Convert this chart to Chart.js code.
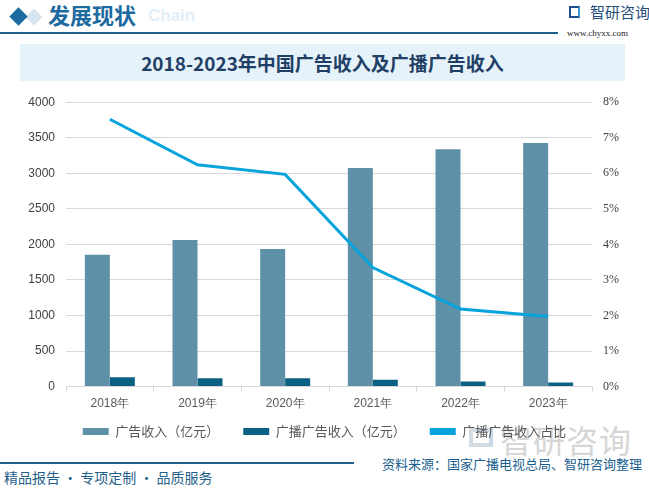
<!DOCTYPE html>
<html>
<head>
<meta charset="utf-8">
<script src="https://cdn.jsdelivr.net/npm/chart.js@4"></script>
<style>
  html, body { margin: 0; padding: 0; }
  body { width: 649px; height: 488px; position: relative; background: #fff; overflow: hidden;
         font-family: "Noto Sans CJK SC", "Noto Sans", sans-serif; }
  .abs { position: absolute; white-space: nowrap; }
  #wrap { position: absolute; left: 0; top: 84px; width: 649px; height: 364px; }
</style>
</head>
<body>
<!-- header -->
<div class="abs" style="left:28px;top:11px;width:12px;height:12px;background:#d6e5f0;transform:rotate(45deg);"></div>
<div class="abs" style="left:12px;top:10px;width:13px;height:13px;background:#1b6aa0;transform:rotate(45deg);"></div>
<div class="abs" style="left:148px;top:6px;font:bold 17px 'Liberation Sans',sans-serif;color:#e3eef7;">Chain</div>
<div class="abs" style="left:48px;top:-2px;font:bold 22px 'Noto Sans CJK SC';color:#1c6aa0;">发展现状</div>
<div class="abs" style="left:0;top:32px;width:558px;height:2px;background:#1f5f8a;"></div>
<div class="abs" style="left:569px;top:6px;width:11px;height:12px;border:2px solid #1f4e8c;box-sizing:border-box;border-right-color:#3a9ad9;"></div>
<div class="abs" style="left:590px;top:1px;font:15px 'Noto Sans CJK SC';color:#1f4e79;">智研咨询</div>
<div class="abs" style="left:567px;top:28px;font:9px 'Liberation Serif',serif;color:#222;">www.chyxx.com</div>
<div class="abs" style="left:20px;top:44px;width:605px;height:37px;background:#e6f2fa;"></div>
<div class="abs" style="left:20px;top:50px;width:605px;text-align:center;font:bold 19px 'Noto Sans CJK SC';color:#1f3f66;line-height:26px;">2018-2023年中国广告收入及广播广告收入</div>

<!-- watermark bottom right -->
<div class="abs" style="left:469px;top:428px;width:24px;height:19px;border:4px solid #d3dbe3;border-right-color:#c9d9e8;box-sizing:border-box;"></div>
<div class="abs" style="left:500px;top:416px;font:32px 'Noto Sans CJK SC';color:#d6d6d6;letter-spacing:1px;">智研咨询</div>

<div id="wrap"><canvas id="chart"></canvas></div>

<!-- footer -->
<div class="abs" style="left:382px;top:455px;font:13px 'Noto Sans CJK SC';color:#1a5f8f;line-height:18px;">资料来源：国家广播电视总局、智研咨询整理</div>
<div class="abs" style="left:0;top:462px;width:354px;height:2px;background:#1f5f8a;"></div>
<div class="abs" style="left:4px;top:468px;font:14px 'Noto Sans CJK SC';color:#1f5f8a;line-height:18px;">精品报告 · 专项定制 · 品质服务</div>

<script>
const years = ['2018年', '2019年', '2020年', '2021年', '2022年', '2023年'];
const adRevenue = [1853, 2063, 1937, 3074, 3340, 3425];
const radioAdRevenue = [131, 117, 117, 98, 70, 56];
const radioShare = [7.52, 6.24, 5.97, 3.35, 2.18, 1.97];
const leftTicks = [0, 500, 1000, 1500, 2000, 2500, 3000, 3500, 4000];
const rightTicks = [0, 1, 2, 3, 4, 5, 6, 7, 8];

// wider gaps between legend items without making the legend taller
const legendGap = {
  id: 'legendGap',
  beforeLayout(chart) {
    const lg = chart.legend;
    if (lg && !lg._gapPatched) {
      const fit = lg.fit;
      lg.fit = function () { fit.call(this); this.height -= 15; };
      lg.draw = function () { if (this.options.display) this._draw(); };
      lg._gapPatched = true;
    }
  },
  afterLayout(chart) {
    chart.legend.top -= 15;
    chart.legend.bottom -= 15;
  },
};

const el = document.getElementById('chart');
const myChart = new Chart(el, {
  type: 'bar',
  data: {
    labels: years,
    datasets: [
      {
        type: 'line',
        label: '广播广告收入占比',
        data: radioShare,
        yAxisID: 'y1',
        borderColor: '#06a3dd',
        backgroundColor: '#06a3dd',
        borderWidth: 3,
        pointRadius: 0,
        tension: 0,
        order: 0,
      },
      {
        label: '广告收入（亿元）',
        data: adRevenue,
        backgroundColor: '#5e91a7',
        order: 1,
      },
      {
        label: '广播广告收入（亿元）',
        data: radioAdRevenue,
        backgroundColor: '#0b6184',
        order: 2,
      },
    ],
  },
  plugins: [legendGap],
  options: {
    responsive: true,
    maintainAspectRatio: false,
    animation: false,
    layout: { padding: { top: 4, left: 0, right: 0, bottom: 0 } },
    datasets: { bar: { categoryPercentage: 0.57, barPercentage: 1 } },
    plugins: {
      tooltip: { enabled: false },
      legend: {
        position: 'bottom',
        labels: {
          boxWidth: 26,
          boxHeight: 7,
          padding: 24,
          color: '#595959',
          font: { size: 13, family: 'Noto Sans CJK SC' },
          generateLabels: (chart) => {
            const ds = chart.data.datasets;
            const order = [1, 2, 0];
            return order.map((i) => ({
              text: ds[i].label,
              fillStyle: ds[i].backgroundColor,
              strokeStyle: ds[i].backgroundColor,
              lineWidth: 0,
              datasetIndex: i,
              fontColor: '#595959',
            }));
          },
        },
      },
    },
    scales: {
      x: {
        grid: { offset: true, drawOnChartArea: false, color: '#d9d9d9', tickLength: 5 },
        border: { color: '#d9d9d9' },
        ticks: { color: '#595959', font: { size: 12, family: 'Liberation Sans' }, padding: 5 },
      },
      y: {
        position: 'left',
        min: 0,
        max: 4000,
        afterBuildTicks: (scale) => { scale.ticks = leftTicks.map((v) => ({ value: v })); },
        afterFit: (scale) => { scale.width = 66; },
        grid: { color: '#d9d9d9', drawTicks: false },
        border: { display: false },
        ticks: {
          color: '#404040',
          font: { size: 12, family: 'Liberation Sans' },
          padding: 11,
          callback: (v) => String(v),
        },
      },
      y1: {
        position: 'right',
        min: 0,
        max: 8,
        afterBuildTicks: (scale) => { scale.ticks = rightTicks.map((v) => ({ value: v })); },
        afterFit: (scale) => { scale.width = 57; },
        grid: { drawOnChartArea: false, drawTicks: false },
        border: { display: false },
        ticks: {
          color: '#404040',
          font: { size: 12, family: 'Liberation Serif' },
          padding: 11,
          callback: (v) => v + '%',
        },
      },
    },
  },
});
</script>
</body>
</html>
